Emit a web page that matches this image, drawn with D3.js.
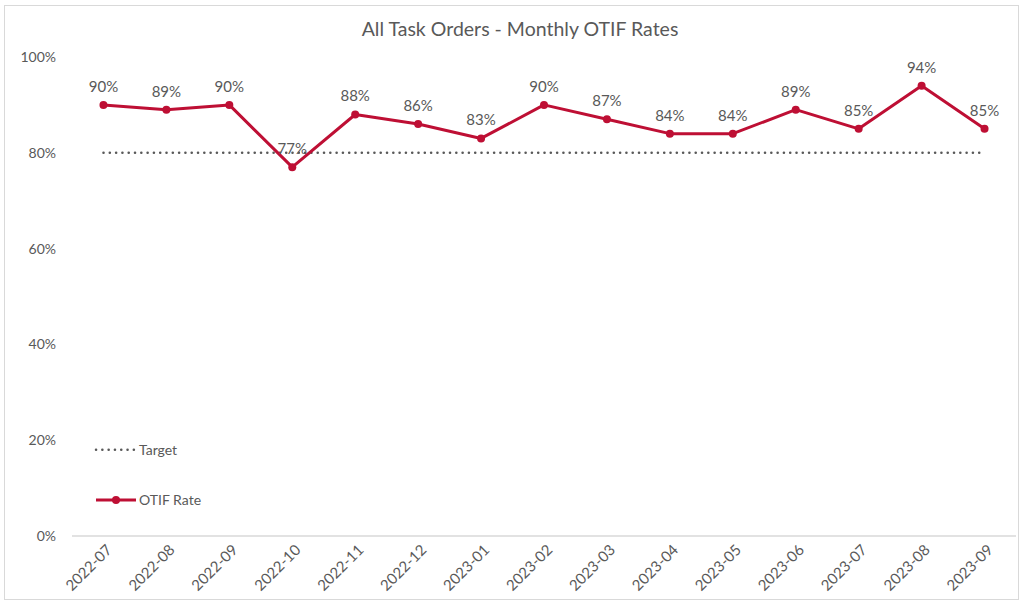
<!DOCTYPE html>
<html>
<head>
<meta charset="utf-8">
<script src="https://cdn.jsdelivr.net/npm/d3@7"></script>
<style>
  body { margin: 0; background: #fff; }
  text { font-family: "Lato", "Open Sans", sans-serif; fill: #595959; }
</style>
</head>
<body>
<svg class="chart" width="1021" height="602"></svg>
<script>
var months = ["2022-07", "2022-08", "2022-09", "2022-10", "2022-11", "2022-12", "2023-01",
              "2023-02", "2023-03", "2023-04", "2023-05", "2023-06", "2023-07", "2023-08", "2023-09"];
var otifRate = [0.90, 0.89, 0.90, 0.77, 0.88, 0.86, 0.83, 0.90, 0.87, 0.84, 0.84, 0.89, 0.85, 0.94, 0.85];
var target = 0.80;
var yTicks = [0, 0.2, 0.4, 0.6, 0.8, 1.0];

var svg = d3.select(".chart"),
    margin = { top: 57, right: 5, bottom: 66, left: 72 },
    width = +svg.attr("width") - margin.left - margin.right,
    height = +svg.attr("height") - margin.top - margin.bottom;

var red = "#BE0F34";

// outer frame
svg.append("rect")
    .attr("x", 4.5).attr("y", 5.5)
    .attr("width", 1014).attr("height", 594)
    .attr("fill", "none")
    .attr("stroke", "#d9d9d9");

svg.append("text")
    .attr("x", 520).attr("y", 36)
    .attr("text-anchor", "middle")
    .style("font-size", "19.5px")
    .text("All Task Orders - Monthly OTIF Rates");

var x = d3.scalePoint().domain(months).range([0, width]).padding(0.5),
    y = d3.scaleLinear().domain([0, 1]).range([height, 0]);

var g = svg.append("g")
    .attr("transform", "translate(" + margin.left + "," + margin.top + ")");

// y axis labels
g.append("g")
    .attr("class", "axis axis--y")
    .call(d3.axisLeft(y).tickValues(yTicks).tickFormat(d3.format(".0%")).tickSize(0).tickPadding(16))
    .call(function(a) { a.select(".domain").remove(); })
    .selectAll("text")
    .style("font-size", "14px")
    .style("font-family", "Lato, sans-serif")
    .attr("fill", "#595959");

// baseline
g.append("line")
    .attr("x1", 0).attr("x2", width)
    .attr("y1", y(0)).attr("y2", y(0))
    .attr("stroke", "#d9d9d9")
    .attr("stroke-width", 1.3);

// x axis labels
g.append("g")
    .attr("class", "axis axis--x")
    .attr("transform", "translate(0," + height + ")")
    .call(d3.axisBottom(x).tickSize(0))
    .call(function(a) { a.select(".domain").remove(); })
    .selectAll("text")
    .style("font-size", "15px")
    .style("font-family", "Lato, sans-serif")
    .attr("fill", "#595959")
    .attr("text-anchor", "end")
    .attr("dy", "0.35em")
    .attr("transform", "translate(3,9) rotate(-45)");

// target line
g.append("line")
    .attr("x1", x(months[0])).attr("x2", x(months[months.length - 1]))
    .attr("y1", y(target)).attr("y2", y(target))
    .attr("stroke", "#595959")
    .attr("stroke-width", 2.5)
    .attr("stroke-linecap", "round")
    .attr("stroke-dasharray", "0.1,6.2");

var line = d3.line()
    .x(function(d, i) { return x(months[i]); })
    .y(function(d) { return y(d); });

g.append("path")
    .datum(otifRate)
    .attr("fill", "none")
    .attr("stroke", red)
    .attr("stroke-width", 3)
    .attr("stroke-linejoin", "round")
    .attr("d", line);

g.selectAll(".dot")
    .data(otifRate)
    .enter().append("circle")
    .attr("class", "dot")
    .attr("cx", function(d, i) { return x(months[i]); })
    .attr("cy", function(d) { return y(d); })
    .attr("r", 4)
    .attr("fill", red);

g.selectAll(".label")
    .data(otifRate)
    .enter().append("text")
    .attr("class", "label")
    .attr("x", function(d, i) { return x(months[i]); })
    .attr("y", function(d) { return y(d) - 13; })
    .attr("text-anchor", "middle")
    .style("font-size", "15px")
    .text(function(d) { return d3.format(".0%")(d); });

// legend
var leg = g.append("g").attr("transform", "translate(24,0)");
leg.append("line")
    .attr("x1", 0).attr("x2", 40)
    .attr("y1", y(0.18)).attr("y2", y(0.18))
    .attr("stroke", "#595959")
    .attr("stroke-width", 2.5)
    .attr("stroke-linecap", "round")
    .attr("stroke-dasharray", "0.1,6.2");
leg.append("text")
    .attr("x", 43).attr("y", y(0.18))
    .attr("dy", "0.35em")
    .style("font-size", "14px")
    .text("Target");

leg.append("line")
    .attr("x1", 0).attr("x2", 40)
    .attr("y1", y(0.075)).attr("y2", y(0.075))
    .attr("stroke", red)
    .attr("stroke-width", 3);
leg.append("circle")
    .attr("cx", 20).attr("cy", y(0.075))
    .attr("r", 4)
    .attr("fill", red);
leg.append("text")
    .attr("x", 43).attr("y", y(0.075))
    .attr("dy", "0.35em")
    .style("font-size", "14px")
    .text("OTIF Rate");
</script>
</body>
</html>
